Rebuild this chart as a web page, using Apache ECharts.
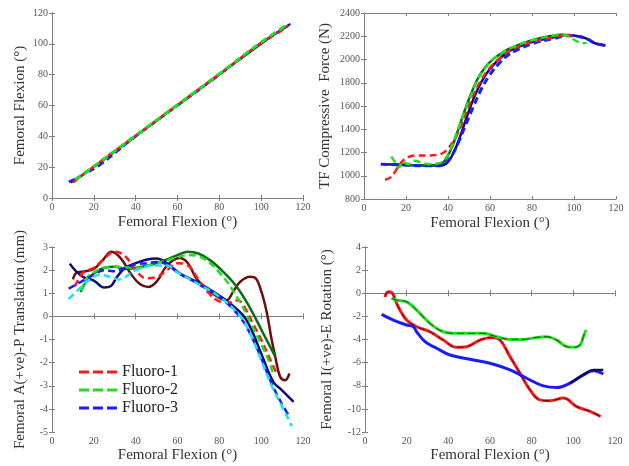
<!DOCTYPE html>
<html>
<head>
<meta charset="utf-8">
<script src="https://cdn.jsdelivr.net/npm/echarts@6/dist/echarts.min.js"></script>
<style>
  html, body { margin: 0; padding: 0; background: #fff; }
  #chart { width: 629px; height: 466px; }
</style>
</head>
<body>
<div id="chart"></div>
<script>
// ---- data: [femoral flexion (deg), value] ----

// top-left: flexion vs flexion
const tlBlack = [[9, 10], [20, 20], [40, 40], [60, 60], [80, 80], [100, 100], [114, 113]]
const tlBlue = [[8, 10.5], [12, 13], [16, 16], [22, 20.5], [40, 40], [60, 60], [80, 80], [100, 100.5], [115, 113.5]]
const tlRed = [[10, 10], [20, 20.5], [40, 40.5], [60, 60.5], [80, 80.5], [100, 100.5], [108, 107], [113, 112]]
const tlGreen = [[11, 12], [20, 20.5], [40, 40.5], [60, 60.5], [80, 80.5], [100, 101], [112, 112]]

// top-right: TF compressive force (N)
const trNavy = [[8, 1100], [20, 1093], [30, 1088], [37, 1090], [40, 1120], [43, 1210], [46, 1350], [50, 1560], [54, 1740], [58, 1870], [62, 1960], [66, 2030], [70, 2080], [80, 2150], [90, 2190], [97, 2210], [102, 2200], [106, 2180], [110, 2140], [115, 2120]]
const trDarkGreen = [[13, 1100], [25, 1090], [34, 1090], [38, 1120], [41, 1210], [44, 1350], [47, 1510], [50, 1660], [54, 1830], [58, 1940], [62, 2010], [66, 2060], [70, 2100], [80, 2165], [90, 2205], [95, 2215]]
const trBlue = [[8, 1100], [20, 1092], [30, 1085], [36, 1085], [39, 1110], [42, 1180], [45, 1290], [48, 1420], [52, 1590], [56, 1750], [60, 1870], [64, 1960], [68, 2030], [72, 2075], [80, 2135], [90, 2180], [98, 2205], [103, 2195], [107, 2170], [110, 2140], [115, 2120]]
const trRed = [[10, 965], [13, 990], [15, 1040], [18, 1120], [21, 1160], [25, 1175], [30, 1175], [35, 1180], [38, 1200], [40, 1235], [43, 1310], [46, 1420], [49, 1560], [52, 1690], [56, 1830], [60, 1930], [64, 2000], [68, 2060], [74, 2115], [80, 2150], [90, 2190], [96, 2210], [99, 2205]]
const trGreen = [[13, 1165], [15, 1110], [16.5, 1070], [18.5, 1120], [21, 1100], [24, 1130], [27, 1115], [31, 1100], [35, 1105], [38, 1130], [41, 1220], [44, 1360], [47, 1510], [50, 1650], [54, 1820], [58, 1935], [62, 2010], [66, 2060], [70, 2100], [80, 2165], [90, 2205], [95, 2215], [98, 2190], [101, 2160], [104, 2140], [106, 2145]]

// bottom-left: A(+ve)-P translation (mm)
const blMaroon = [[10, 1.6], [12, 1.9], [16, 1.95], [20, 2.05], [24, 2.4], [28.5, 2.8], [33, 2.5], [38, 1.8], [42, 1.4], [46, 1.27], [50, 1.5], [55, 2.2], [61, 2.52], [65, 2.3], [69, 1.64], [74, 1.2], [80, 0.8], [83.5, 0.7], [86.6, 1.07], [90, 1.5], [94.7, 1.71], [97.3, 1.65], [100, 1.1], [102.6, 0.2], [105, -1.0], [106.6, -1.68], [109, -2.6], [111.4, -2.76], [113.5, -2.47]]
const blRed = [[11, 1.3], [15, 1.9], [20, 2.1], [25, 2.5], [30, 2.8], [35, 2.6], [40, 2.0], [45, 1.65], [50, 1.7], [55, 2.0], [60, 2.3], [65, 2.2], [70, 1.6], [75, 1.0], [80, 0.65], [85, 0.6], [89, 0.7], [92, 0.4], [96, -0.3], [100, -1.0], [104, -1.8], [107, -2.4]]
const blDarkGreen = [[13.6, 1.05], [17, 1.6], [20, 1.85], [25, 2.1], [30, 2.15], [35, 2.05], [40, 2.1], [50, 2.3], [60, 2.65], [65, 2.8], [70, 2.72], [76, 2.4], [81.8, 1.93], [88.3, 1.28], [94.7, 0.36], [101, -0.74], [106.7, -1.73]]
const blGreen = [[14, 1.1], [17, 1.7], [20, 1.9], [25, 2.1], [30, 2.15], [40, 2.1], [50, 2.3], [60, 2.55], [65, 2.65], [70, 2.6], [80, 1.9], [90, 0.6], [95, -0.3], [100, -1.2], [104, -2.0], [106, -2.6]]
const blNavy = [[8.5, 2.28], [11, 2.0], [15, 1.7], [20, 1.55], [25, 1.25], [28, 1.3], [31, 1.7], [35, 2.1], [40, 2.3], [45, 2.45], [50, 2.5], [55, 2.3], [61, 1.86], [70, 1.45], [80, 0.9], [86, 0.5], [93, -0.16], [100, -1.6], [105.8, -2.83], [110, -3.2], [115.5, -3.7]]
const blBlue = [[8, 1.2], [12, 1.4], [20, 1.8], [25, 2.0], [30, 1.95], [35, 2.1], [40, 2.25], [45, 2.3], [50, 2.35], [55, 2.25], [60, 1.9], [70, 1.4], [80, 0.85], [90, -0.05], [95, -0.8], [100, -1.8], [105, -2.9], [110, -3.8], [114, -4.4]]
const blCyan = [[8, 0.75], [12, 1.1], [18, 1.6], [23, 1.8], [28, 1.7], [32, 1.6], [40, 2.0], [50, 2.2], [55, 2.2], [60, 1.9], [70, 1.4], [80, 0.85], [90, 0.0], [95, -0.8], [100, -1.9], [105, -3.0], [110, -3.9], [114.7, -4.75]]

// bottom-right: I(+ve)-E rotation (deg)
const brRed = [[9.6, -0.31], [10.5, 0.05], [12, 0.12], [13.5, -0.1], [14.5, -0.6], [16.8, -1.46], [20, -2.32], [24.8, -2.9], [31.2, -3.33], [37.6, -4.05], [44, -4.68], [48.8, -4.62], [55.2, -4.05], [60.8, -3.82], [64.8, -4.05], [69.6, -5.48], [74.4, -6.92], [79.2, -8.36], [84, -9.22], [88.8, -9.3], [95.2, -9.07], [101.6, -9.8], [108, -10.22], [113.1, -10.66]]
const brGreen = [[12.8, -0.45], [15.2, -0.6], [20, -0.74], [24.8, -1.46], [31.2, -2.61], [37.6, -3.33], [44, -3.47], [50.4, -3.47], [56.8, -3.47], [63.2, -3.76], [69.6, -3.99], [76, -3.99], [82.4, -3.82], [87.2, -3.76], [92, -4.05], [96.8, -4.62], [100, -4.68], [103.2, -4.48], [104.8, -3.76], [106.1, -3.18]]
const brBlue = [[8, -1.83], [13.6, -2.32], [20, -2.75], [23.2, -2.9], [24.8, -3.33], [28.8, -4.19], [34.4, -4.76], [40.8, -5.34], [50.4, -5.71], [60, -6.06], [69.6, -6.63], [77.6, -7.35], [85.6, -8.01], [92, -8.16], [98.4, -7.78], [104.8, -7.06], [109.6, -6.7], [114.4, -6.98]]
const brNavy = [[98.4, -7.78], [104.8, -7.06], [109.6, -6.63], [114.4, -6.63]]

const legendNames = ['Fluoro-1', 'Fluoro-2', 'Fluoro-3']

const C = {
  red: '#ff1a1a', green: '#1fe01f', blue: '#1a1aff', cyan: '#1ee0f0',
  maroon: '#6a0f0f', dgreen: '#0b6e12', navy: '#0e0e6a', black: '#111',
}
const serif = '"Liberation Serif", "DejaVu Serif", serif'
const dash = [7, 4]
// 图例：三段虚线
const dashIcon = 'path://M0,0H10V3H0Z M14,0H24V3H14Z M28,0H38V3H28Z'

// 面板位置（像素）
const grids = [
  { left: 52, top: 13, width: 251, height: 185 },
  { left: 364, top: 13, width: 252, height: 186 },
  { left: 52, top: 247, width: 251, height: 185 },
  { left: 365, top: 247, width: 250, height: 185 },
]
const yRanges = [
  { min: 0, max: 120, interval: 20, name: 'Femoral Flexion (°)', gap: 24 },
  { min: 800, max: 2400, interval: 200, name: 'TF Compressive  Force (N)', gap: 31 },
  { min: -5, max: 3, interval: 1, name: 'Femoral A(+ve)-P Translation (mm)', gap: 24 },
  { min: -12, max: 4, interval: 2, name: 'Femoral I(+ve)-E Rotation (°)', gap: 30 },
]

const boxLine = { lineStyle: { color: '#808080', width: 1 } }
const tick = { show: true, inside: true, length: 3, lineStyle: { color: '#808080' } }
const labelStyle = { color: '#555', fontFamily: serif, fontSize: 10, formatter: (v) => String(v) }

const xAxis = []
const yAxis = []
grids.forEach((g, i) => {
  xAxis.push({
    gridIndex: i, type: 'value', min: 0, max: 120, interval: 20, position: 'bottom',
    name: 'Femoral Flexion (°)', nameLocation: 'middle', nameGap: i < 2 ? 17 : 16,
    nameTextStyle: { color: '#333', fontFamily: serif, fontSize: 15 },
    axisLine: boxLine, axisTick: tick, splitLine: { show: false },
    axisLabel: { ...labelStyle, margin: 4 },
  })
  xAxis.push({
    gridIndex: i, type: 'value', min: 0, max: 120, interval: 20, position: 'top',
    axisLine: boxLine, axisTick: tick, splitLine: { show: false }, axisLabel: { show: false },
  })
  const r = yRanges[i]
  yAxis.push({
    gridIndex: i, type: 'value', min: r.min, max: r.max, interval: r.interval, position: 'left',
    name: r.name, nameLocation: 'middle', nameGap: r.gap,
    nameTextStyle: { color: '#333', fontFamily: serif, fontSize: 15 },
    axisLine: boxLine, axisTick: tick, splitLine: { show: false },
    axisLabel: { ...labelStyle, margin: 4 },
  })
  yAxis.push({
    gridIndex: i, type: 'value', min: r.min, max: r.max, interval: r.interval, position: 'right',
    axisLine: boxLine, axisTick: tick, splitLine: { show: false }, axisLabel: { show: false },
  })
})

const line = (name, data, color, dashed, panel, width = 2.5) => ({
  name, type: 'line', data, xAxisIndex: panel * 2, yAxisIndex: panel * 2,
  smooth: 0.4, symbol: 'none', silent: true,
  lineStyle: { color, width, type: dashed ? dash : 'solid' },
  itemStyle: { color },
})

const series = [
  line('tl-black', tlBlack, C.black, false, 0, 2),
  line('tl-blue', tlBlue, C.blue, true, 0),
  line('tl-red', tlRed, C.red, true, 0),
  line('tl-green', tlGreen, C.green, true, 0, 3),

  line('tr-navy', trNavy, C.navy, false, 1),
  line('tr-dgreen', trDarkGreen, C.dgreen, false, 1),
  line('tr-blue', trBlue, C.blue, true, 1, 3),
  line('tr-red', trRed, C.red, true, 1),
  line('tr-green', trGreen, C.green, true, 1),

  line('bl-maroon', blMaroon, C.maroon, false, 2),
  line('bl-dgreen', blDarkGreen, C.dgreen, false, 2),
  line('bl-navy', blNavy, C.navy, false, 2),
  line('Fluoro-1', blRed, C.red, true, 2),
  line('Fluoro-2', blGreen, C.green, true, 2),
  line('Fluoro-3', blBlue, C.blue, true, 2),
  line('bl-cyan', blCyan, C.cyan, true, 2),

  line('br-red', brRed, C.red, false, 3, 3),
  line('br-red-d', brRed, '#4a1010', true, 3, 1),
  line('br-green', brGreen, C.green, false, 3, 3),
  line('br-green-d', brGreen, '#1a4a1a', true, 3, 1),
  line('br-blue', brBlue, C.blue, false, 3, 3),
  line('br-navy', brNavy, C.navy, false, 3, 2.5),
]

const chart = echarts.init(document.getElementById('chart'))
chart.setOption({
  backgroundColor: '#fff',
  animation: false,
  grid: grids,
  xAxis,
  yAxis,
  legend: {
    data: legendNames.map((name) => ({ name, icon: dashIcon })),
    orient: 'vertical',
    left: 74,
    top: 359,
    itemWidth: 38,
    itemHeight: 3,
    itemGap: 2,
    selectedMode: false,
    textStyle: { color: '#222', fontFamily: serif, fontSize: 16 },
  },
  series,
})
</script>
</body>
</html>
